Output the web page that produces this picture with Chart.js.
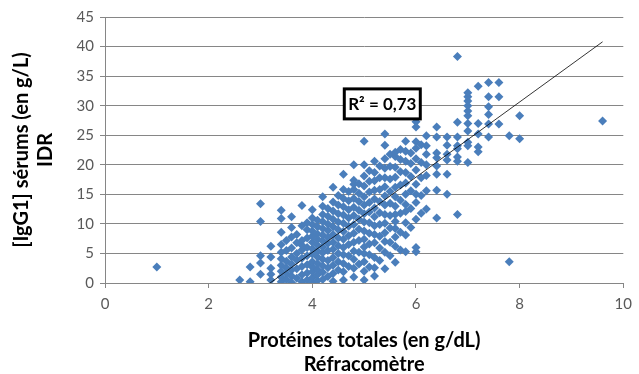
<!DOCTYPE html>
<html>
<head>
<meta charset="utf-8">
<script src="https://cdn.jsdelivr.net/npm/chart.js@4.4.1/dist/chart.umd.min.js"></script>
<style>
  html, body { margin: 0; padding: 0; background: #fff; }
  #wrap { width: 639px; height: 374px; }
</style>
</head>
<body>
<div id="wrap"><canvas id="myChart" width="639" height="374"></canvas></div>
<script>
//refractometer readings (g/dL), one entry per column of points
const colX = [1.0, 2.6, 2.8, 3.0, 3.2, 3.4, 3.5, 3.6, 3.7, 3.8, 3.9, 4.0, 4.1, 4.2, 4.3, 4.4, 4.5,
	4.6, 4.7, 4.8, 4.9, 5.0, 5.1, 5.2, 5.3, 5.4, 5.5, 5.6, 5.7, 5.8, 5.9, 6.0, 6.1, 6.2,
	6.4, 6.6, 6.8, 7.0, 7.2, 7.4, 7.6, 7.8, 8.0, 9.6];

const colY = [
	[2.7],
	[0.5],
	[0.2, 2.7],
	[1.5, 3.4, 4.6, 10.4, 13.4],
	[0.5, 1.5, 2.5, 4.4, 6.2],
	[0.2, 1.0, 2.0, 3.0, 4.1, 5.2, 6.5, 8.6, 10.9, 12.3],
	[0.6, 1.6, 2.6, 3.7, 5.5, 7.2],
	[0.1, 1.2, 2.2, 3.2, 4.4, 5.9, 7.8, 9.4, 11.2],
	[0.8, 2.4, 3.9, 5.0, 6.8, 8.2],
	[0.2, 1.4, 2.8, 4.2, 5.6, 6.4, 7.2, 9.7, 13.1],
	[0.5, 1.7, 3.1, 4.6, 6.0, 7.6, 9.0, 10.2],
	[0.0, 0.9, 1.9, 2.7, 3.6, 4.9, 5.8, 6.9, 7.9, 8.8, 9.9, 11.0, 12.4],
	[0.4, 1.4, 2.3, 3.3, 4.4, 5.4, 6.4, 7.4, 8.3, 9.5, 10.6],
	[0.6, 1.8, 2.9, 4.0, 5.1, 6.1, 7.1, 8.1, 9.2, 10.4, 11.6, 13.0, 14.6],
	[1.1, 2.6, 3.8, 5.5, 6.7, 7.7, 8.9, 10.0, 11.3, 12.6],
	[0.3, 1.6, 3.0, 4.3, 5.7, 6.9, 8.2, 9.5, 10.8, 12.2, 13.7, 16.2],
	[2.2, 3.6, 5.0, 6.3, 7.6, 9.0, 10.3, 11.7, 13.2, 14.8],
	[0.5, 1.9, 3.3, 4.8, 6.0, 7.4, 8.7, 10.1, 11.5, 12.9, 14.3, 15.8, 18.4],
	[2.8, 4.6, 6.5, 8.0, 9.6, 11.0, 12.4, 13.9, 15.5],
	[1.0, 2.5, 4.0, 5.4, 6.9, 8.4, 9.9, 11.4, 12.8, 14.3, 15.8, 16.7, 17.4, 20.0],
	[3.2, 5.2, 7.2, 9.1, 10.8, 12.3, 13.8, 15.2, 16.8],
	[0.5, 2.0, 3.6, 5.0, 6.1, 7.4, 8.8, 10.3, 11.7, 13.2, 14.6, 16.4, 18.1, 20.0, 24.0],
	[2.7, 4.8, 6.6, 8.4, 10.2, 12.0, 13.6, 15.4, 17.2, 19.0],
	[1.2, 2.6, 4.3, 6.8, 8.2, 9.7, 11.2, 12.7, 14.2, 15.7, 17.3, 18.7, 20.6],
	[3.8, 5.9, 7.9, 9.9, 11.9, 13.8, 15.8, 17.8, 19.8],
	[2.4, 5.2, 7.0, 8.5, 10.1, 11.6, 13.2, 14.7, 16.3, 17.8, 19.4, 21.0, 23.3, 25.2],
	[4.6, 6.9, 9.3, 11.4, 13.5, 15.5, 17.6, 19.7, 21.8],
	[3.5, 6.2, 7.8, 9.2, 10.4, 11.6, 13.0, 14.6, 16.2, 17.9, 19.6, 21.4, 22.1],
	[5.6, 8.6, 11.8, 14.0, 16.6, 18.8, 20.9, 22.6],
	[5.3, 8.1, 10.2, 12.1, 13.3, 15.0, 16.9, 18.7, 20.6, 22.3, 24.0],
	[9.4, 12.6, 15.6, 18.0, 20.2, 22.0],
	[5.3, 6.0, 10.8, 13.6, 15.0, 16.7, 19.1, 21.0, 22.8, 23.9, 26.4, 27.3, 27.9],
	[11.8, 14.8, 17.8, 20.4, 23.4],
	[12.5, 15.6, 18.2, 20.0, 21.8, 23.2, 24.9],
	[11.0, 15.7, 18.4, 19.8, 21.2, 22.0, 24.7, 26.4],
	[15.0, 18.4, 20.8, 21.8, 23.3, 24.7],
	[11.6, 20.6, 21.3, 22.7, 23.2, 24.7, 27.2, 38.3],
	[20.4, 23.2, 23.8, 25.7, 27.0, 28.3, 29.1, 30.0, 30.8, 31.5, 32.2],
	[22.2, 23.0, 25.2, 27.0, 33.3],
	[24.7, 26.9, 28.5, 29.8, 31.5, 33.9],
	[26.9, 31.5, 33.9],
	[3.6, 24.9],
	[24.4, 28.3],
	[27.4]
];

//linear trend line ends, as drawn (clipped at y = 0 by the axis)
const trendX = [1.0, 9.6];
const trendY = [-13.9, 40.8];

const xTicks = [0, 2, 4, 6, 8, 10];
const yTicks = [0, 5, 10, 15, 20, 25, 30, 35, 40, 45];
const r2Text = 'R\u00b2 = 0,73';

let points = [];
for (var i = 0; i < colX.length; i++) {
	for (var j = 0; j < colY[i].length; j++) {
		points.push({x: colX[i], y: colY[i][j]});
	}
}

//draws the boxed R² label, anchored on data coordinates
const r2Box = {
	id: 'r2Box',
	afterDatasetsDraw(chart) {
		const c = chart.ctx;
		const px = chart.scales.x.getPixelForValue(5.35);
		const py = chart.scales.y.getPixelForValue(30.3);
		c.save();
		c.font = 'bold 17px Lato';
		const w = 76;
		const h = 30;
		c.fillStyle = '#fff';
		c.fillRect(px - w / 2, py - h / 2, w, h);
		c.lineWidth = 3;
		c.strokeStyle = '#000';
		c.strokeRect(px - w / 2, py - h / 2, w, h);
		c.fillStyle = '#000';
		c.textAlign = 'center';
		c.textBaseline = 'middle';
		c.fillText(r2Text, px, py + 1);
		c.restore();
	}
};

var ctx = document.getElementById('myChart');
new Chart(ctx, {
	type: 'scatter',
	data: {
		datasets: [
		{
			label: 'trend',
			type: 'line',
			data: trendX.map((x, k) => ({x: x, y: trendY[k]})),
			borderColor: '#000',
			borderWidth: 0.8,
			pointRadius: 0,
			fill: false
		},
		{
			label: 'IgG1',
			data: points,
			pointStyle: 'rectRot',
			pointRadius: 4.5,
			backgroundColor: '#4a7ebb',
			borderColor: '#4a7ebb',
			borderWidth: 0
		}
		]
	},
	options: {
		responsive: false,
		animation: false,
		layout: { padding: { left: 0, right: 11, top: 17, bottom: 0 } },
		plugins: { legend: { display: false }, tooltip: { enabled: false } },
		scales: {
			x: {
				type: 'linear',
				min: 0, max: 10,
				afterBuildTicks: (s) => { s.ticks = xTicks.map(v => ({value: v})); },
				afterFit: (s) => { s.height = 91; },
				grid: { drawOnChartArea: false, drawTicks: true, tickLength: 5, color: '#868686' },
				border: { color: '#868686' },
				ticks: { color: '#595959', font: { family: 'Lato', size: 15 }, padding: 7 },
				title: {
					display: true,
					text: ['Prot\u00e9ines totales (en g/dL)', 'R\u00e9fracom\u00e8tre'],
					color: '#000',
					font: { family: 'Lato', size: 20, weight: 'bold', lineHeight: 1.2 },
					padding: { top: 7, bottom: -3 }
				}
			},
			y: {
				min: 0, max: 45,
				afterBuildTicks: (s) => { s.ticks = yTicks.map(v => ({value: v})); },
				afterFit: (s) => { s.width = 105; },
				grid: { color: '#868686', tickLength: 5 },
				border: { color: '#868686' },
				ticks: { color: '#595959', font: { family: 'Lato', size: 15 }, padding: 6 },
				title: {
					display: true,
					text: ['[IgG1] s\u00e9rums (en g/L)', 'IDR'],
					color: '#000',
					font: { family: 'Lato', size: 20, weight: 'bold', lineHeight: 1.2 },
					padding: { top: 10, bottom: 0 }
				}
			}
		}
	},
	plugins: [r2Box]
});
</script>
</body>
</html>
